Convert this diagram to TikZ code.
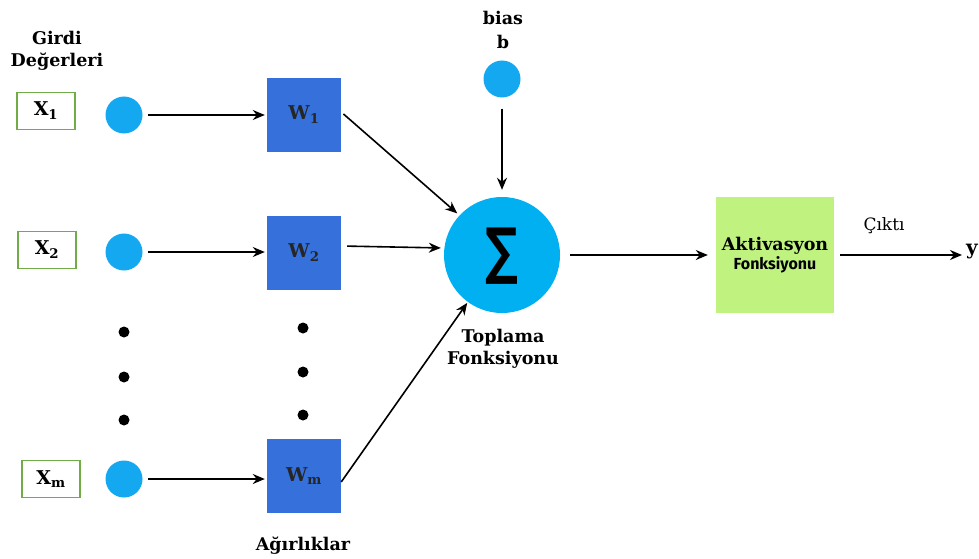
\documentclass[tikz,border=0pt]{standalone}
\usepackage{fontspec}
\setmainfont{DejaVu Serif}
\newfontfamily\sumfont{DejaVu Sans}
\newfontfamily\fsans{Fira Sans}
\usetikzlibrary{arrows.meta}
\definecolor{inblue}{RGB}{20,168,240}
\definecolor{wblue}{RGB}{54,112,218}
\definecolor{sigblue}{RGB}{0,176,240}
\definecolor{actgreen}{RGB}{192,242,128}
\definecolor{xgreen}{RGB}{112,173,71}
\tikzset{
  lbl/.style={font=\bfseries\fontsize{17.5}{21}\selectfont, align=center, inner sep=0pt},
  xbox/.style={draw=xgreen, line width=1.8pt, minimum width=58pt, minimum height=37pt, inner sep=0pt, font=\bfseries\fontsize{19}{22}\selectfont},
  incirc/.style={circle, fill=inblue, minimum size=37pt, inner sep=0pt},
  wbox/.style={fill=wblue, minimum width=74pt, minimum height=74pt, inner sep=0pt, font=\bfseries\fontsize{19}{22}\selectfont, text=black!85},
  dotn/.style={circle, fill=black, minimum size=11pt, inner sep=0pt},
  arr/.style={-{Stealth[length=12pt,width=10pt]}, line width=1.6pt},
}
\begin{document}
\begin{tikzpicture}[x=1pt,y=-1pt]
\useasboundingbox (0,0) rectangle (979,559);
% labels
\node[lbl] (girdi) at (57,51) {Girdi\\[1pt]Değerleri};
\node[lbl] (bias) at (503,30) {bias\\[3pt]b};
\node[lbl] (topl) at (503,349) {Toplama\\[1pt]Fonksiyonu};
\node[lbl] (agir) at (303,546) {Ağırlıklar};
% inputs
\node[xbox] (x1) at (46,111) {X$_{\mathbf 1}$};
\node[xbox] (x2) at (47,250) {X$_{\mathbf 2}$};
\node[xbox] (xm) at (51,479) {X$_{\mathbf m}$};
\node[incirc] (c1) at (124,115) {};
\node[incirc] (c2) at (124,252) {};
\node[incirc] (cm) at (124,479) {};
\node[dotn] (d1) at (124,332) {};
\node[dotn] (d2) at (124,377) {};
\node[dotn] (d3) at (124,420) {};
% weights
\node[wbox] (w1) at (304,115) {W$_{\mathbf 1}$};
\node[wbox] (w2) at (304,253) {W$_{\mathbf 2}$};
\node[wbox] (wm) at (304,476) {W$_{\mathbf m}$};
\node[dotn] (e1) at (303,328) {};
\node[dotn] (e2) at (303,372) {};
\node[dotn] (e3) at (303,415) {};
% bias and sum
\node[incirc] (bc) at (502,79) {};
\node[circle, fill=sigblue, minimum size=116pt, inner sep=0pt] (sig) at (502,255) {};
\node[inner sep=0pt, font=\sumfont\bfseries\fontsize{62}{62}\selectfont] (sigsym) at (502,256) {\scalebox{0.74}[1]{∑}};
% activation
\node[fill=actgreen, minimum width=118pt, minimum height=116pt, inner sep=0pt, align=center] (act) at (775,255)
  {{\bfseries\fontsize{17.5}{21}\selectfont Aktivasyon}\\[1pt]{\fsans\bfseries\fontsize{16}{19}\selectfont Fonksiyonu}};
\node[font=\fontsize{17}{20}\selectfont, inner sep=0pt] (cikti) at (884,226) {Çıktı};
\node[font=\bfseries\fontsize{20}{22}\selectfont, inner sep=0pt, anchor=west] (y) at (966,252) {y};
% connectors
\draw[arr, shorten <=5pt, shorten >=2pt] (c1.east) -- (c1.east -| w1.west);
\draw[arr, shorten <=5pt, shorten >=2pt] (c2.east) -- (c2.east -| w2.west);
\draw[arr, shorten <=5pt, shorten >=2pt] (cm.east) -- (cm.east -| wm.west);
\draw[arr, shorten <=3pt, shorten >=3pt] ([yshift=3pt]w1.east) -- (sig.137);
\draw[arr, shorten <=6pt, shorten >=3pt] ([yshift=7pt]w2.east) -- ([yshift=7pt]sig.west);
\draw[arr, shorten >=1pt] ([yshift=-6pt]wm.east) -- (sig.234);
\draw[arr, shorten <=11pt, shorten >=7pt] (bc) -- (sig);
\draw[arr, shorten <=10pt, shorten >=8pt] (sig) -- (act);
\draw[arr, shorten <=6pt, shorten >=4pt] (act.east) -- (act.east -| y.west);
\end{tikzpicture}
\end{document}
